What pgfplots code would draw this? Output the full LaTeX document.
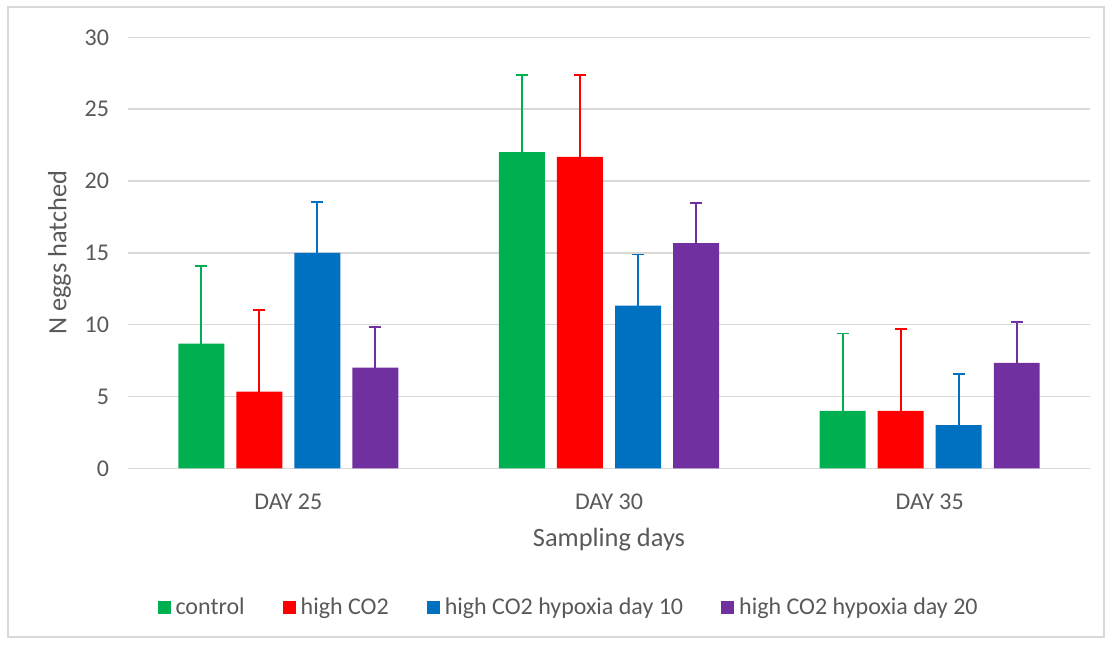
\documentclass[border=0pt]{standalone}
\usepackage{pgfplots}
\pgfplotsset{compat=1.18}
\usepackage{fontspec}
\setmainfont{Carlito}
\definecolor{cgreen}{HTML}{00B050}
\definecolor{cred}{HTML}{FF0000}
\definecolor{cblue}{HTML}{0070C0}
\definecolor{cpurple}{HTML}{7030A0}
\definecolor{tgray}{HTML}{595959}
\definecolor{ggray}{HTML}{D9D9D9}
\pgfplotstableread{
x y e
0 8.67 5.40
1 22.0 5.40
2 4.00 5.38
}\control
\pgfplotstableread{
x y e
0 5.33 5.68
1 21.67 5.68
2 4.00 5.68
}\highco
\pgfplotstableread{
x y e
0 15.0 3.55
1 11.33 3.55
2 3.00 3.55
}\hypten
\pgfplotstableread{
x y e
0 7.00 2.83
1 15.67 2.80
2 7.33 2.83
}\hyptwenty
\begin{document}
\begin{tikzpicture}
\path[use as bounding box] (0pt,0pt) rectangle (556pt,322pt);
\draw[ggray, line width=0.75pt] (4pt,3.5pt) rectangle (552pt,318.5pt);
\begin{axis}[
  at={(64pt,87.85pt)}, anchor=south west,
  scale only axis, width=481pt, height=215.5pt,
  xmin=-0.5, xmax=2.5, ymin=0, ymax=30,
  ytick={0,5,...,30},
  xtick={0,1,2}, xticklabels={DAY 25, DAY 30, DAY 35},
  axis line style={draw=none},
  major tick style={draw=none},
  ymajorgrids, major grid style={ggray, line width=0.75pt},
  /pgf/number format/assume math mode=true,
  ticklabel style={font=\fontsize{12}{14}\selectfont, text=tgray},
  yticklabel style={xshift=-6pt},
  xticklabel style={yshift=-5pt},
  xlabel={Sampling days}, ylabel={N eggs hatched},
  label style={font=\fontsize{13.2}{15}\selectfont, text=tgray},
  xlabel style={yshift=-2.5pt},
  bar width=0.1434,
  ybar, 
  legend style={draw=none, at={(0.458,-0.324)}, anchor=center,
    legend columns=-1, font=\fontsize{12}{14}\selectfont, text=tgray,
    nodes={inner xsep=1pt},
    /tikz/every odd column/.append style={column sep=1.5pt},
    /tikz/every even column/.append style={column sep=18pt}},
  legend image code/.code={\fill (0pt,-3.25pt) rectangle (6.5pt,3.25pt);},
  error bars/y dir=plus, error bars/y explicit,
]
\addplot[fill=cgreen, draw=none, bar shift=-0.2715,
  error bars/error bar style={cgreen, line width=0.9pt},
  error bars/error mark options={cgreen, rotate=90, mark size=3pt, line width=0.9pt}]
  table[x=x, y=y, y error=e] {\control};
\addplot[fill=cred, draw=none, bar shift=-0.0905,
  error bars/error bar style={cred, line width=0.9pt},
  error bars/error mark options={cred, rotate=90, mark size=3pt, line width=0.9pt}]
  table[x=x, y=y, y error=e] {\highco};
\addplot[fill=cblue, draw=none, bar shift=0.0905,
  error bars/error bar style={cblue, line width=0.9pt},
  error bars/error mark options={cblue, rotate=90, mark size=3pt, line width=0.9pt}]
  table[x=x, y=y, y error=e] {\hypten};
\addplot[fill=cpurple, draw=none, bar shift=0.2715,
  error bars/error bar style={cpurple, line width=0.9pt},
  error bars/error mark options={cpurple, rotate=90, mark size=3pt, line width=0.9pt}]
  table[x=x, y=y, y error=e] {\hyptwenty};
\legend{control, high CO2, high CO2 hypoxia day 10, high CO2 hypoxia day 20}
\end{axis}
\end{tikzpicture}
\end{document}
